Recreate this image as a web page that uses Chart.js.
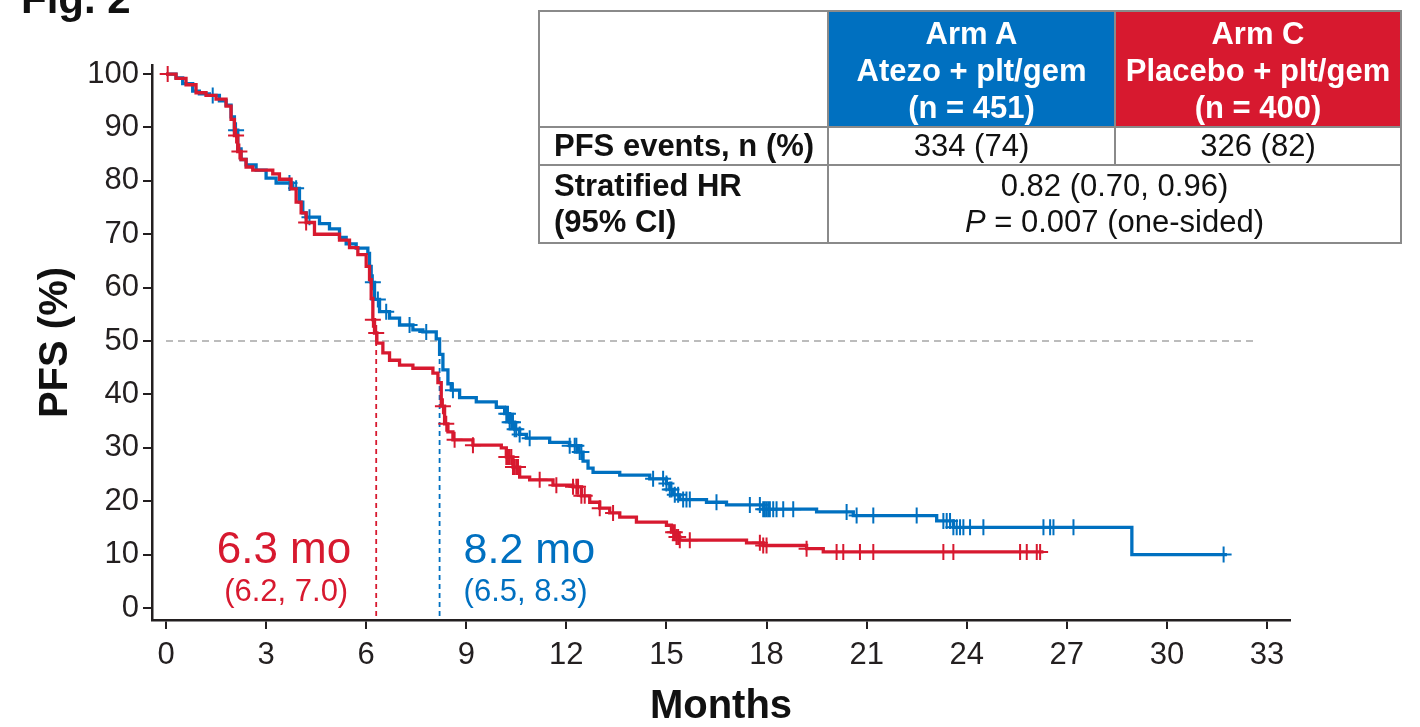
<!DOCTYPE html>
<html>
<head>
<meta charset="utf-8">
<script src="https://cdn.jsdelivr.net/npm/chart.js@4/dist/chart.umd.min.js"></script>
<style>
    body { margin: 0; background: #fff; font-family: "Liberation Sans", Arial, sans-serif; }
    #wrap { position: relative; width: 1420px; height: 727px; overflow: hidden; }
    #kmChart { position: absolute; left: 0; top: 0; }
    #fig { position: absolute; left: 21px; top: -25px; font-size: 42px; font-weight: bold; color: #111; }

    /* ── Summary table ── */
    #summary {
        position: absolute; left: 538px; top: 10px;
        width: 862px; border-collapse: collapse; table-layout: fixed;
        font-size: 31px; color: #111;
    }
    #summary td { border: 2px solid #8a8a8a; padding: 0; text-align: center; white-space: nowrap; }
    #summary .hdr { height: 106px; color: #fff; font-weight: bold; line-height: 37px; vertical-align: top; padding-top: 3px; }
    #summary .armA { background: #0070C0; }
    #summary .armC { background: #D7192F; }
    #summary .r2 td { height: 34px; }
    #summary .r3 td { height: 76px; line-height: 36px; }
    #summary .lbl { text-align: left; padding-left: 14px; font-weight: bold; }
</style>
</head>
<body>
<div id="wrap">
    <canvas id="kmChart" width="1420" height="727"></canvas>
    <div id="fig">Fig. 2</div>
    <table id="summary">
        <colgroup><col style="width:289px"><col style="width:287px"><col style="width:286px"></colgroup>
        <tr>
            <td class="hdr" style="background:#fff"></td>
            <td class="hdr armA">Arm A<br>Atezo + plt/gem<br>(n = 451)</td>
            <td class="hdr armC">Arm C<br>Placebo + plt/gem<br>(n = 400)</td>
        </tr>
        <tr class="r2">
            <td class="lbl">PFS events, n (%)</td>
            <td>334 (74)</td>
            <td>326 (82)</td>
        </tr>
        <tr class="r3">
            <td class="lbl">Stratified HR<br>(95% CI)</td>
            <td colspan="2">0.82 (0.70, 0.96)<br><i>P</i> = 0.007 (one-sided)</td>
        </tr>
    </table>
</div>

<script>
// ── Data ──
const xTicks = [0, 3, 6, 9, 12, 15, 18, 21, 24, 27, 30, 33];
const yTicks = [0, 10, 20, 30, 40, 50, 60, 70, 80, 90, 100];

// Arm A: Atezo + plt/gem (months, PFS %)
const armATime = [0, 0.3, 0.5, 0.8, 1.0, 1.3, 1.6, 1.8, 1.95, 2.05, 2.15, 2.25, 2.4, 2.7, 3.0, 3.3, 3.8,
    4.0, 4.1, 4.2, 4.6, 4.9, 5.2, 5.4, 5.7, 6.05, 6.1, 6.15, 6.25, 6.4, 6.7, 7.0, 7.4, 7.7,
    8.1, 8.2, 8.3, 8.45, 8.55, 8.8, 9.3, 9.9, 10.15, 10.3, 10.45, 10.6, 10.8, 11.5, 12.1,
    12.35, 12.5, 12.65, 12.8, 13.6, 14.5, 15.0, 15.1, 15.2, 15.4, 16.2, 16.8, 17.9, 19.5,
    20.6, 23.1, 23.6, 28.95, 31.8];
const armAPfs = [100, 99.3, 98.2, 96.8, 96.3, 96.0, 95.0, 94.2, 92, 89.5, 86, 84, 83, 82, 80.5, 79.6, 78.6,
    76, 74, 73.2, 72, 71, 69.4, 68.2, 67.4, 66.4, 64, 61, 57.8, 55.5, 54.3, 53, 52.1, 51.7,
    50.4, 47.5, 44.6, 42, 40.8, 39.4, 38.6, 37.6, 36.4, 34.8, 33.5, 32.5, 31.8, 31.0, 30.4,
    29.2, 27.5, 26.2, 25.4, 24.9, 24.2, 23.3, 22.2, 21.2, 20.3, 19.8, 19.3, 18.5, 18.0,
    17.3, 16.3, 15.1, 10.0, 10.0];
const armACensor = [1.4, 2.1, 3.7, 3.9, 4.3, 6.2, 6.35, 6.6, 7.3, 7.8, 8.6, 10.2, 10.25, 10.3, 10.35,
    10.4, 10.45, 10.5, 10.6, 10.9, 12.1, 12.25, 12.3, 12.4, 12.45, 14.6, 14.9, 15.0, 15.1, 15.15,
    15.25, 15.35, 15.5, 15.6, 15.7, 16.5, 17.5, 17.8, 17.9, 17.95, 18.0, 18.05, 18.1, 18.2, 18.3,
    18.5, 18.8, 20.4, 20.7, 21.2, 22.5, 23.3, 23.4, 23.5, 23.6, 23.7, 23.8, 23.9, 24.1, 24.5,
    26.3, 26.5, 26.6, 27.2, 31.7];

// Arm C: Placebo + plt/gem
const armCTime = [0, 0.3, 0.6, 0.9, 1.2, 1.5, 1.8, 1.95, 2.05, 2.15, 2.25, 2.4, 2.6, 3.2, 3.4, 3.75,
    3.9, 4.05, 4.2, 4.45, 5.2, 5.5, 5.75, 6.0, 6.1, 6.15, 6.2, 6.25, 6.32, 6.5, 6.7, 7.0, 7.4,
    8.0, 8.15, 8.25, 8.35, 8.45, 8.6, 9.2, 10.05, 10.2, 10.4, 10.6, 10.9, 11.6, 12.2, 12.45,
    12.7, 13.0, 13.3, 13.6, 14.1, 15.0, 15.15, 15.3, 15.4, 17.4, 17.9, 19.2, 19.7, 26.3];
const armCPfs = [100, 99.2, 98, 96.5, 96.0, 95.3, 94.0, 91.5, 88.5, 85.5, 84, 82.6, 82.0, 81.3, 80.3, 78.5,
    76, 74, 72.2, 70, 68.9, 67.5, 66.2, 64, 61.5, 58, 54, 51.5, 49.6, 47.8, 46.4, 45.5, 44.9,
    44.0, 42.2, 37.8, 34.5, 33.0, 31.5, 30.5, 30.0, 28.3, 26.4, 24.5, 24.0, 23.0, 22.7, 21,
    19.8, 18.7, 17.8, 17.0, 16.1, 15.5, 14.2, 13.3, 12.7, 12.2, 11.7, 11.1, 10.5, 10.5];
const armCCensor = [0.05, 2.1, 2.2, 4.2, 6.2, 6.3, 8.3, 8.4, 8.65, 9.2, 10.2, 10.25, 10.3, 10.35, 10.4,
    10.45, 10.5, 10.55, 11.2, 11.7, 12.2, 12.3, 12.35, 12.45, 12.55, 13.0, 13.4, 15.2, 15.25, 15.3,
    15.35, 15.4, 15.7, 17.8, 17.9, 18.0, 19.2, 20.1, 20.3, 20.8, 21.2, 23.3, 23.6, 25.6, 25.8,
    26.1, 26.2];

const medianMonths = [6.3, 8.2];           // Arm C, Arm A
const medianLabels = ['6.3 mo', '8.2 mo'];
const medianCI     = ['(6.2, 7.0)', '(6.5, 8.3)'];
const refLevel = [50];
const refLineEnd = [32.7];

// ── Colours / axis limits ──
const BLUE = '#0070C0';
const RED = '#D7192F';
const INK = '#231F20';
const X_MIN = -0.42, X_MAX = 33.69;
const Y_MIN = -2.25, Y_MAX = 101.7;

// ── Helpers ──
function toPoints(times, vals) {
    return times.map((t, i) => ({ x: t, y: vals[i] }));
}

// value of the step curve at time t (used to put censor ticks on the curve)
function survAt(times, vals, t) {
    let v = vals[0];
    for (let i = 0; i < times.length; i++) {
        if (times[i] <= t) v = vals[i];
    }
    return v;
}

function censorPoints(censor, times, vals) {
    return censor.map(t => ({ x: t, y: survAt(times, vals, t) }));
}

Chart.defaults.font.family = '"Liberation Sans", Arial, sans-serif';
Chart.defaults.color = INK;

// ── Median text labels ──
const medianText = {
    id: 'medianText',
    afterDatasetsDraw(chart) {
        const { ctx, scales: { x }, chartArea } = chart;
        const colors = [RED, BLUE];
        ctx.save();
        medianMonths.forEach((m, i) => {
            const px = x.getPixelForValue(m);
            const left = i === 0;
            ctx.fillStyle = colors[i];
            ctx.textAlign = left ? 'right' : 'left';
            ctx.textBaseline = 'alphabetic';
            ctx.font = (left ? '44px' : '43px') + ' "Liberation Sans", Arial, sans-serif';
            ctx.fillText(medianLabels[i], left ? px - 25 : px + 24, chartArea.bottom - 57);
            ctx.font = '31px "Liberation Sans", Arial, sans-serif';
            ctx.fillText(medianCI[i], left ? px - 28 : px + 24, chartArea.bottom - 19);
        });
        ctx.restore();
    }
};

const ctx = document.getElementById('kmChart').getContext('2d');

new Chart(ctx, {
    type: 'line',
    data: {
        datasets: [
            {
                label: 'Arm C',
                data: toPoints(armCTime, armCPfs),
                borderColor: RED, borderWidth: 3.3, stepped: 'before',
                pointRadius: 0, fill: false
            },
            {
                label: 'Arm C censored',
                data: censorPoints(armCCensor, armCTime, armCPfs),
                showLine: false, pointStyle: 'cross', pointRadius: 8,
                borderColor: RED, borderWidth: 2
            },
            {
                label: 'Arm A',
                data: toPoints(armATime, armAPfs),
                borderColor: BLUE, borderWidth: 3.3, stepped: 'before',
                pointRadius: 0, fill: false
            },
            {
                label: 'Arm A censored',
                data: censorPoints(armACensor, armATime, armAPfs),
                showLine: false, pointStyle: 'cross', pointRadius: 8,
                borderColor: BLUE, borderWidth: 2
            },
            {
                label: 'Median C',
                data: [{ x: medianMonths[0], y: refLevel[0] }, { x: medianMonths[0], y: Y_MIN }],
                borderColor: RED, borderWidth: 1.8, borderDash: [5, 4], pointRadius: 0
            },
            {
                label: 'Median A',
                data: [{ x: medianMonths[1], y: refLevel[0] }, { x: medianMonths[1], y: Y_MIN }],
                borderColor: BLUE, borderWidth: 1.8, borderDash: [5, 4], pointRadius: 0
            },
            {
                label: '50%',
                data: [{ x: 0, y: refLevel[0] }, { x: refLineEnd[0], y: refLevel[0] }],
                borderColor: '#A6A6A6', borderWidth: 1.6, borderDash: [7, 5], pointRadius: 0
            }
        ]
    },
    options: {
        responsive: false,
        animation: false,
        devicePixelRatio: 1,
        layout: { padding: { top: 65, right: 130, left: 0, bottom: 0 } },
        plugins: {
            legend: { display: false },
            tooltip: { enabled: false }
        },
        scales: {
            x: {
                type: 'linear',
                min: X_MIN, max: X_MAX,
                afterBuildTicks: s => { s.ticks = xTicks.map(v => ({ value: v })); },
                afterFit: s => { s.height = 107; },
                grid: { drawOnChartArea: false, drawTicks: true, tickLength: 9, color: INK, lineWidth: 2 },
                border: { display: true, color: INK, width: 2.5 },
                ticks: { font: { size: 31 }, color: INK, padding: 8, maxRotation: 0 },
                title: {
                    display: true, text: 'Months', color: '#111',
                    font: { size: 40, weight: 'bold', lineHeight: 1 },
                    padding: { top: 0, bottom: 0 }
                }
            },
            y: {
                type: 'linear',
                min: Y_MIN, max: Y_MAX,
                afterBuildTicks: s => { s.ticks = yTicks.map(v => ({ value: v })); },
                afterFit: s => { s.width = 152; },
                grid: { drawOnChartArea: false, drawTicks: true, tickLength: 9, color: INK, lineWidth: 2 },
                border: { display: true, color: INK, width: 2.5 },
                ticks: { font: { size: 31 }, color: INK, padding: 4 },
                title: {
                    display: true, text: 'PFS (%)', color: '#111',
                    font: { size: 40, weight: 'bold', lineHeight: 1 },
                    padding: { top: 36, bottom: 0 }
                }
            }
        }
    },
    plugins: [medianText]
});
</script>
</body>
</html>
